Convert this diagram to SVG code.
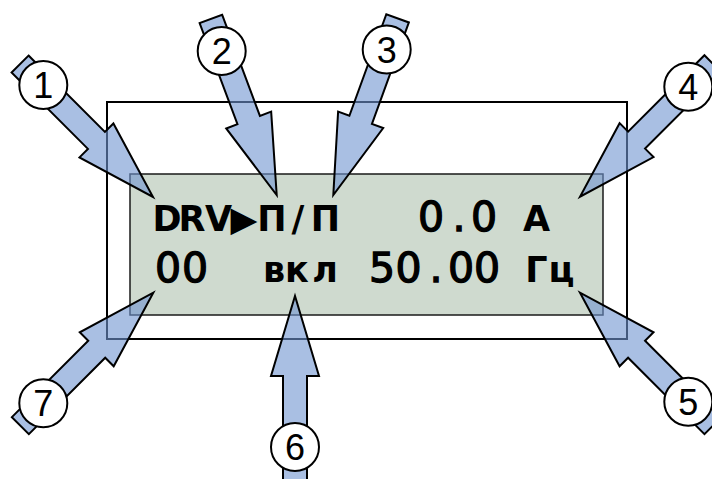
<svg xmlns="http://www.w3.org/2000/svg" width="712" height="479" viewBox="0 0 712 479">
<style>
.frame{fill:#ffffff;stroke:#000;stroke-width:2}
.lcd{fill:#cfdacf;stroke:#1a1a1a;stroke-width:1.5}
.ltr{font-family:"DejaVu Sans","Liberation Sans",sans-serif;font-weight:bold;font-size:35px;fill:#000;text-anchor:middle}
.dig{font-family:"DejaVu Sans","Liberation Sans",sans-serif;font-weight:normal;font-size:41px;fill:#000;stroke:#000;stroke-width:1.3;text-anchor:middle}
.arrow{fill:#6f94d0;fill-opacity:0.6;stroke:#000;stroke-width:2;stroke-linejoin:miter}
.badge circle{fill:#fff;stroke:#000;stroke-width:2}
.badge text{font-family:"Liberation Sans",Arial,sans-serif;font-size:36px;fill:#000;text-anchor:middle}
</style>
<defs>
<polygon id="blk" points="-188,-12 -80,-12 -80,-24 0,0 -80,24 -80,12 -188,12"/>
</defs>
<g id="display">
<rect class="frame" x="107" y="102" width="520" height="237"/>
<rect class="lcd" x="130" y="174" width="473" height="141"/>
<text class="ltr" x="167 192 218.5 244 272 298 325.5" y="231">DRV▶П/П</text>
<text class="dig" x="431 459 484" y="231">0.0</text>
<text class="ltr" x="536.5" y="231">A</text>
<text class="dig" x="168 195" y="281.7">00</text>
<text class="ltr" x="274 297 325" y="281.7">вкл</text>
<text class="dig" x="382 408.5 436 461 487" y="281.7">50.00</text>
<text class="ltr" x="536.5 561.5" y="281.7">Гц</text>
</g>
<g id="connectors">
<use href="#blk" class="arrow" transform="translate(153,197) rotate(45)"/>
<use href="#blk" class="arrow" transform="translate(276.7,195) rotate(69.5)"/>
<use href="#blk" class="arrow" transform="translate(333.3,195) rotate(110)"/>
<use href="#blk" class="arrow" transform="translate(580,196.7) rotate(135)"/>
<use href="#blk" class="arrow" transform="translate(580,292.7) rotate(225)"/>
<use href="#blk" class="arrow" transform="translate(295,296) rotate(270)"/>
<use href="#blk" class="arrow" transform="translate(153.3,292.7) rotate(-45)"/>
</g>
<g id="c1" class="badge"><circle cx="43.3" cy="85" r="24"/><text x="43.3" y="98">1</text></g>
<g id="c2" class="badge"><circle cx="221.7" cy="51" r="24"/><text x="221.7" y="64">2</text></g>
<g id="c3" class="badge"><circle cx="386.7" cy="49.5" r="24"/><text x="386.7" y="62.5">3</text></g>
<g id="c4" class="badge"><circle cx="688.3" cy="86.7" r="24"/><text x="688.3" y="99.7">4</text></g>
<g id="c5" class="badge"><circle cx="688.3" cy="401.7" r="24"/><text x="688.3" y="414.7">5</text></g>
<g id="c6" class="badge"><circle cx="295" cy="447" r="24"/><text x="295" y="460">6</text></g>
<g id="c7" class="badge"><circle cx="43.3" cy="403.3" r="24"/><text x="43.3" y="416.3">7</text></g>
</svg>
